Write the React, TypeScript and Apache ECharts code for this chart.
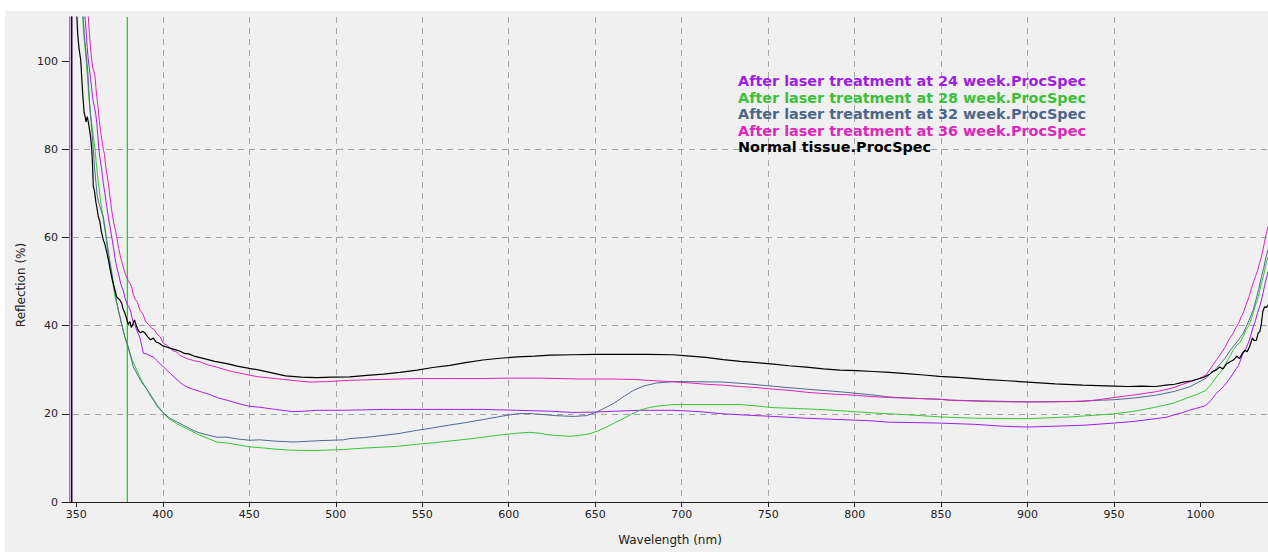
import React, { useEffect, useRef } from 'react';
import * as echarts from 'echarts';

const seriesNames = [
  'After laser treatment at 24 week.ProcSpec',
  'After laser treatment at 28 week.ProcSpec',
  'After laser treatment at 32 week.ProcSpec',
  'After laser treatment at 36 week.ProcSpec',
  'Normal tissue.ProcSpec',
];
const seriesColors = ['#a01ee8', '#33c833', '#4f6a8e', '#dc22bc', '#000000'];
const legendColors = ['#a01ee0', '#3cc03c', '#4e6688', '#dc28bc', '#000000'];

const wavelengthTicks = [350, 400, 450, 500, 550, 600, 650, 700, 750, 800, 850, 900, 950, 1000];
const reflectionTicks = [0, 20, 40, 60, 80, 100];
const markerWavelength = 379.5;
const markerSpan = [0, 110];

const week24 = [
  [346.2,0],[346.2,400],[355,110],[355.6,107],[356.3,103],[356.9,100.3],[357.5,98.5],[358.2,96],[359,93.2],[359.7,91],[360.5,89.5],[361.2,88],[361.8,86],[362.4,83.2],[363,80],[363.8,77.6],[364.7,75.3],[365.5,72.5],[366.5,70],[367.5,67.2],[368.5,64.7],[369.5,62.3],[370.5,60],[371.5,57.6],[372.4,55.2],[373.3,53.4],[374.5,51.5],[375.8,49.3],[377,48.1],[378.2,46.2],[379.2,45],[380.2,44.4],[381.2,43.5],[382.2,41.8],[383,40.5],[384,40],[385,38.9],[386,38],[386.8,37.2],[387.8,35.4],[388.8,33.7],[390.5,33.6],[392,33.3],[394.5,32.9],[396.5,32.1],[398.5,31.3],[400.5,30.6],[402.3,29.9],[404.5,29.1],[407,28.2],[409.5,27.3],[411.9,26.5],[414.5,26],[418,25.5],[422,25],[427,24.4],[432,23.6],[437,23.1],[443,22.4],[450,21.7],[456,21.5],[465,21],[475,20.5],[482,20.6],[489,20.8],[504,20.8],[515,20.9],[527.5,21],[543,21],[566,21],[585,21],[604.6,20.8],[623.8,20.6],[637,20.3],[650,20.4],[662,20.6],[676,20.8],[695,20.8],[710,20.5],[724,20],[738,19.7],[753,19.4],[772,19],[791.5,18.7],[810,18.4],[820,18.1],[835,18],[849,17.9],[870,17.6],[885,17.2],[900,17],[916,17.2],[932,17.4],[950,17.9],[962,18.3],[974,18.9],[980,19.2],[985,19.8],[989,20.2],[993.5,20.8],[997,21.2],[1000,21.5],[1003,21.9],[1006,23],[1009,24.6],[1011,25.3],[1014,26.5],[1016.5,27.8],[1018.8,29.1],[1020.5,30.2],[1022,31],[1023.5,32.6],[1024.6,33.7],[1026,34.5],[1028,36.5],[1029.3,38.1],[1030.4,39.7],[1031.8,41.2],[1033,43],[1034.2,44.3],[1035.2,45.8],[1036.2,47.5],[1037,49],[1038,50.6],[1039,52.3],
];

const week28 = [
  [347.3,0],[347.3,400],[353.7,110],[354.3,106],[355,103],[355.6,100.3],[356.4,96.5],[357.2,92],[357.9,89],[358.8,86],[359.8,83],[360.8,80],[361.6,76.5],[362.6,72.8],[363.7,69.3],[364.7,66.5],[365.7,63.8],[366.6,61.5],[367.6,58.7],[368.5,56],[369.5,53.4],[370.5,51],[371.5,48.6],[372.4,46.5],[373.4,45],[374.3,43.5],[375.3,41.6],[376.3,40.2],[377.3,38.6],[378.2,37.2],[379.1,36.2],[380,35.2],[381.2,33.6],[382.5,32],[383.7,31],[384.9,29.9],[386.3,28.8],[387.7,27.6],[389,26.7],[390.8,25.6],[392.6,24.2],[394.5,23.1],[397,21.5],[399.5,20.5],[402.3,19.3],[405,18.5],[408,17.8],[411.9,17],[414.5,16.5],[417.6,15.9],[421,15.2],[425,14.6],[431.2,13.6],[437,13.4],[443,13],[450.4,12.5],[457,12.3],[465,12],[472,11.8],[479.3,11.7],[490,11.7],[504.3,11.9],[515,12.2],[525,12.4],[535,12.6],[546.8,13.1],[556,13.4],[565,13.8],[575,14.2],[585.3,14.7],[595,15.2],[604.6,15.6],[612,15.8],[617.8,15.6],[622,15.3],[627,15.1],[635.4,14.9],[641,15.1],[647,15.5],[652,16.2],[656.5,17],[661,17.9],[666.1,18.9],[671,19.9],[675.8,20.8],[680,21.3],[685,21.7],[695,22.1],[710,22.1],[733.6,22.1],[743,21.8],[752.9,21.4],[767,21.2],[781.7,20.95],[796,20.6],[810.7,20.2],[830,19.8],[849.2,19.3],[870,19],[900,18.9],[925,19.3],[950,20],[962,20.6],[974,21.5],[985,22.5],[993.5,23.8],[998,24.4],[1003,25.3],[1006,26.6],[1009.2,28.4],[1011.5,29.4],[1014,31],[1016.5,32.7],[1018.8,34.4],[1021,35.6],[1022.8,36.2],[1024.6,37.5],[1026.5,39.2],[1028,40],[1030.4,42.8],[1031.8,44.7],[1033,46],[1034,47.6],[1035.2,49.6],[1036.5,51.5],[1037.7,53.7],[1039,55.6],
];

const week32 = [
  [347.3,0],[347.3,400],[353.9,110],[354.6,106],[355.3,103],[356,100.3],[356.7,97],[357.3,93],[357.9,89],[358.8,85],[359.8,80],[360.5,76],[361.3,72.5],[362.1,69.3],[363.2,67.5],[364.4,66],[365.6,64.7],[366.8,61.5],[368,58],[369.2,55],[370.5,52],[371.4,49.5],[372.4,47.4],[373.3,45.4],[374.3,43.5],[375.4,41.8],[376.6,39.6],[378,37.5],[379,36.3],[380,35],[381.5,32.8],[383,30.6],[384.5,29.5],[386,28.4],[388,27],[390.3,25.8],[392.6,24.5],[394.8,23.1],[397,21.8],[399.5,20.6],[402.3,19.5],[405,18.8],[408,18.2],[411.9,17.4],[414.5,16.9],[417.6,16.25],[421,15.7],[425,15.3],[431.2,14.7],[437,14.7],[443,14.3],[450.4,14],[456,14.1],[465,13.8],[475.4,13.6],[490,13.9],[504.3,14.1],[508.2,14.4],[516,14.6],[525,15],[536,15.5],[546.8,16.25],[556,16.8],[565,17.4],[575,18],[585.3,18.7],[595,19.4],[604.6,20],[611,20.1],[617.8,19.9],[627,19.6],[637.3,19.4],[645,19.6],[650.8,20.4],[655,21.2],[660.4,22.3],[666,23.8],[672,25.3],[678,26.3],[685.5,27],[695,27.3],[704.7,27.3],[724,27.2],[738,26.8],[752.9,26.25],[772,25.6],[791.5,25],[810,24.3],[820.3,23.8],[835,23.5],[849.2,23.3],[855,23.1],[878,22.9],[900,22.7],[925,22.8],[950,23.2],[962,23.6],[974,24.2],[985,25.1],[993.5,26.1],[998,27],[1003,28],[1006,29.2],[1009.2,30.3],[1011.5,31.4],[1014,32.5],[1016.5,34],[1018.8,35.2],[1021.5,36.5],[1024.6,38.2],[1027.5,40.7],[1030.4,43.5],[1032,45.8],[1033.6,48.2],[1035.2,51.1],[1036.5,53],[1037.8,55.5],[1039,57.2],
];

const week36 = [
  [347.3,0],[347.3,400],[356.9,110],[357.5,106.5],[358.2,103],[358.9,100.3],[359.5,98.4],[360.1,97.8],[360.8,96.5],[361.3,94],[361.8,92],[362.3,90.5],[362.7,89],[363.3,86.5],[364,84],[364.8,82],[365.6,80],[366.3,78.8],[367,76],[367.8,74],[368.5,72.3],[369.5,69],[370.5,66],[371.5,63.5],[372.4,62],[373.3,60.2],[374.5,57.5],[375.5,55.6],[376.5,54.2],[377.8,52.3],[379.1,51],[380,50.2],[381,49.6],[382,48.8],[383,47],[384,46],[385.3,45.3],[386.8,43.5],[388.5,42.6],[390,41],[391.8,40.2],[393.6,39.4],[395,39.1],[396.5,38.2],[398.4,37.5],[400.3,36],[402,35.6],[404,35],[406,34.3],[408,34],[410,33.2],[411.9,32.9],[414,32.5],[416,32.3],[418.5,32],[421.5,31.8],[426,31.1],[431.2,30.6],[436,30],[440.8,29.5],[445,29.2],[450.4,28.75],[455,28.4],[460,28.2],[465,28],[469.7,27.8],[477,27.5],[485,27.2],[495,27.3],[508,27.6],[527,27.8],[547,28],[565,28],[585,28],[600,28.1],[618,28.1],[640,27.9],[660,27.9],[672,27.8],[680,27.6],[689,27.4],[697,27.2],[705,27],[714,26.7],[724,26.5],[733,26.2],[743,25.95],[753,25.6],[762.5,25.3],[772,24.9],[781.7,24.6],[791,24.4],[801,24.2],[810,23.9],[820,23.7],[835,23.5],[849,23.3],[855,23.1],[875,22.8],[893.6,22.7],[910,22.7],[932,22.8],[941,23.2],[950,23.7],[962,24.3],[974,25],[980,25.5],[985,26],[989,26.6],[993.5,27.2],[998,27.8],[1003,28.75],[1006,30.4],[1009.2,32.2],[1011.5,33.5],[1014,35],[1016.5,36.9],[1018.8,38.2],[1020.5,39.6],[1022,40.5],[1023.5,42],[1024.6,42.8],[1026.3,44.7],[1028,46.5],[1029.3,48.3],[1030.4,49.6],[1031.8,51.2],[1033,52.5],[1034.2,54.3],[1035.2,55.6],[1036.2,57.4],[1037,59],[1038,60.8],[1039,62.5],
];

const normalTissue = [
  [347.3,0],[347.3,400],[350.3,110],[350.8,106],[351.5,103],[352.5,100.3],[353,97],[353.6,93],[354.5,88.3],[355,87.5],[355.6,86.2],[356.3,87.4],[357,86],[357.6,84.5],[358.2,82.8],[358.9,80],[359.3,77],[359.8,71.5],[360.4,70.8],[361.3,68],[362,66.5],[362.7,64.7],[363.5,63.8],[364.4,61.5],[365.6,59.4],[366.5,58.5],[367.5,56.8],[368.5,55],[369.5,52.8],[370.5,50.9],[371.5,49.3],[372.5,47.8],[373.3,46.5],[374.2,46.2],[375.2,45.8],[376.2,45.1],[377,43.8],[378,42.9],[379.2,41.4],[380,40.3],[381,40.9],[381.8,39.6],[382.8,40.4],[383.6,41.3],[384.5,40.2],[385.8,38.9],[387,38.4],[388.5,38.7],[390,38.2],[391.5,37.3],[393,36.8],[394.5,37.2],[396,36.3],[398,36],[400,35.4],[402.5,35.1],[405,34.8],[407.5,34.5],[410,34.2],[412.5,33.7],[415,33.6],[418,33.1],[421,32.8],[425,32.4],[430,31.9],[437,31.4],[443,30.8],[450,30.3],[456,29.9],[463,29.3],[471,28.6],[480,28.3],[489,28.2],[498,28.3],[508,28.4],[518,28.7],[527.5,29],[537,29.4],[547,29.9],[556,30.5],[566,31],[575,31.6],[585,32.2],[595,32.6],[605,32.9],[615,33.1],[624,33.3],[637,33.4],[650,33.5],[665,33.5],[680,33.5],[695,33.4],[705,33.1],[714,32.8],[724,32.3],[734,31.9],[743,31.6],[753,31.25],[762,30.9],[772,30.6],[782,30.2],[791.5,29.9],[801,29.8],[811,29.6],[820,29.4],[830,29.1],[840,28.8],[849,28.5],[862,28.2],[875,27.8],[888,27.5],[900,27.2],[916,26.8],[932,26.5],[941,26.4],[950,26.3],[958,26.2],[966,26.3],[974,26.2],[980,26.5],[985,26.7],[990,27.2],[995,27.5],[999.5,28],[1002,28.3],[1005,28.9],[1007,29.6],[1009,29.9],[1011,30.6],[1013,30.2],[1015,31.3],[1017,31.8],[1019,32.2],[1021,33.1],[1022.5,32.5],[1024,33.6],[1025.5,34.4],[1027,34.1],[1028.5,35.4],[1030,37.2],[1031,36.6],[1032.3,36.7],[1033.3,38.3],[1034.3,38.7],[1035.2,40.5],[1036,43.2],[1037,44.3],[1038,44.1],[1039,44.7],
];

const seriesData = [week24, week28, week32, week36, normalTissue];

const FONT = 'DejaVu Sans';

export default function App() {
  const ref = useRef<HTMLDivElement>(null);

  useEffect(() => {
    document.body.style.margin = '0';
    document.body.style.background = '#ffffff';
    const chart = echarts.init(ref.current as HTMLDivElement, null, { renderer: 'svg' });

    const gridLine = { color: '#a4a4a4', type: [6, 5] as number[], width: 1 };

    const series: any[] = [
      {
        name: 'Marker',
        type: 'line',
        data: markerSpan.map((v) => [markerWavelength, v]),
        showSymbol: false,
        symbol: 'none',
        color: '#00e600',
        lineStyle: { color: '#00e600', width: 1.3 },
        emphasis: { disabled: true },
        silent: true,
        z: 2,
      },
      ...seriesData.map((d, i) => ({
        name: seriesNames[i],
        type: 'line',
        data: d,
        showSymbol: false,
        symbol: 'none',
        clip: true,
        color: seriesColors[i],
        lineStyle: { color: seriesColors[i], width: i === 4 ? 1.2 : 1 },
        emphasis: { disabled: true },
        z: 3 + i,
      })),
    ];

    chart.setOption({
      animation: false,
      backgroundColor: 'transparent',
      grid: { left: 57, right: 0, top: 6, bottom: 50, containLabel: false },
      legend: {
        orient: 'vertical',
        left: 723,
        top: 58,
        icon: 'none',
        itemWidth: 0,
        itemHeight: 14,
        itemGap: 2.6,
        selectedMode: false,
        textStyle: { fontFamily: FONT, fontWeight: 'bold', fontSize: 14.4 },
        data: seriesNames.map((n, i) => ({ name: n, textStyle: { color: legendColors[i] } })),
      },
      xAxis: {
        type: 'value',
        min: 341.7,
        max: 1039,
        name: 'Wavelength (nm)',
        nameLocation: 'middle',
        nameGap: 32,
        nameTextStyle: { fontFamily: FONT, fontSize: 12, color: '#222', padding: [0, 0, 0, 10] },
        axisLine: { show: true, onZero: false, lineStyle: { color: '#222', width: 1 } },
        axisTick: { show: true, length: 5, customValues: wavelengthTicks, lineStyle: { color: '#222' } },
        axisLabel: {
          customValues: wavelengthTicks,
          fontFamily: FONT,
          fontSize: 11,
          color: '#222',
          margin: 7,
          formatter: (v: number) => String(v),
        },
        splitLine: { show: true, showMinLine: false, showMaxLine: false, lineStyle: gridLine },
      },
      yAxis: {
        type: 'value',
        min: 0,
        max: 110,
        axisLine: { show: false },
        axisTick: { show: true, inside: true, length: 7, customValues: reflectionTicks, lineStyle: { color: '#222' } },
        axisLabel: {
          customValues: reflectionTicks,
          fontFamily: FONT,
          fontSize: 11,
          color: '#222',
          margin: 4,
          formatter: (v: number) => String(v),
        },
        splitLine: { show: true, showMinLine: false, showMaxLine: false, lineStyle: gridLine },
      },
      graphic: [
        {
          type: 'text',
          x: 16,
          y: 274,
          rotation: Math.PI / 2,
          style: {
            text: 'Reflection (%)',
            fontFamily: FONT,
            fontSize: 12,
            fill: '#222',
            align: 'center',
            verticalAlign: 'middle',
            textAlign: 'center',
            textVerticalAlign: 'middle',
          },
        },
      ],
      series,
    });

    return () => chart.dispose();
  }, []);

  return (
    <div style={{ position: 'absolute', left: 0, top: 0, width: 1268, height: 552, background: '#ffffff' }}>
      <div
        ref={ref}
        style={{ position: 'absolute', left: 5, top: 11, width: 1263, height: 541, background: '#f0f0f0' }}
      />
    </div>
  );
}
